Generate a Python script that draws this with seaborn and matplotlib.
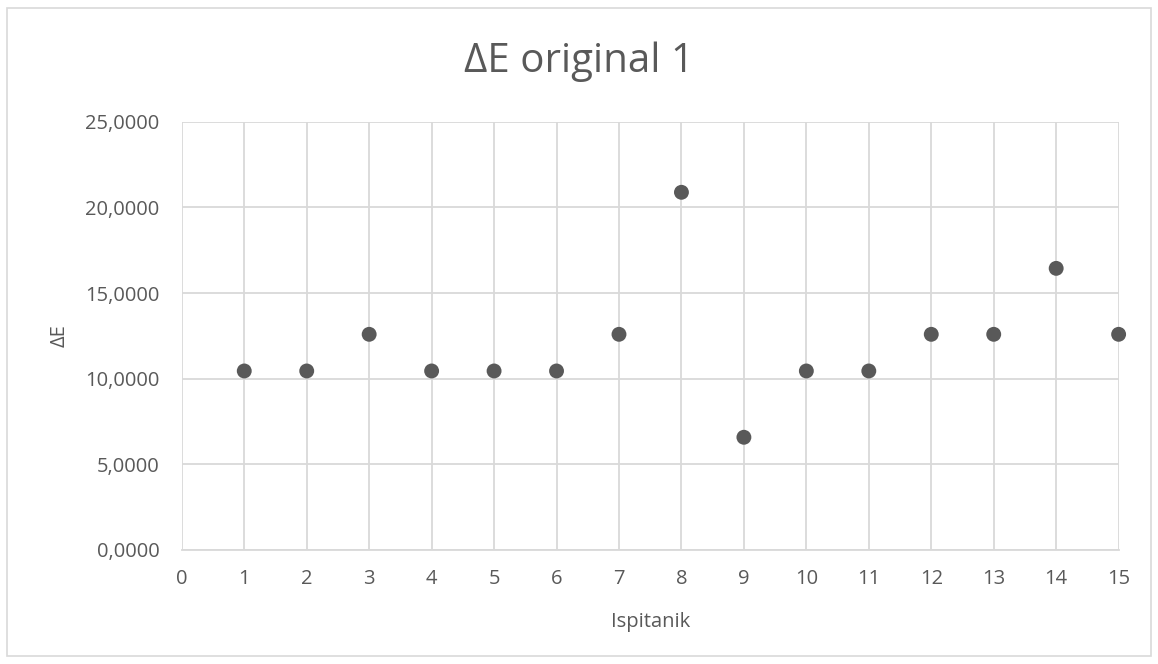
import matplotlib
matplotlib.use("Agg")
import matplotlib.pyplot as plt
import matplotlib.ticker as mticker
from matplotlib.patches import Rectangle
import seaborn as sns
import pandas as pd

ispitanik = [1, 2, 3, 4, 5, 6, 7, 8, 9, 10, 11, 12, 13, 14, 15]
delta_e = [10.45, 10.45, 12.59, 10.45, 10.45, 10.45, 12.59, 20.88, 6.58,
           10.45, 10.45, 12.59, 12.59, 16.44, 12.59]
x_ticks = list(range(0, 16))
y_ticks = [0, 5, 10, 15, 20, 25]
title = "ΔE original 1"
x_label = "Ispitanik"
y_label = "ΔE"

sns.set_theme(style="white")
plt.rcParams['font.family'] = ['Open Sans', 'DejaVu Sans']

text_color = "#595959"
grid_color = "#d9d9d9"

df = pd.DataFrame({"x": ispitanik, "y": delta_e})

fig = plt.figure(figsize=(11.58, 6.64), dpi=100)
ax = fig.add_axes([0.157, 0.1717, 0.966 - 0.157, 0.8167 - 0.1717])

sns.scatterplot(data=df, x="x", y="y", ax=ax, color="#595959", s=115,
                edgecolor="none", zorder=3, clip_on=False)

ax.set_xlim(0, 15)
ax.set_ylim(0, 25)
ax.set_xticks(x_ticks)
ax.set_yticks(y_ticks)
ax.yaxis.set_major_formatter(mticker.FuncFormatter(lambda v, p: f"{v:.4f}".replace(".", ",")))
ax.grid(True, color=grid_color, linewidth=1.3)
ax.set_axisbelow(True)
for s in ["top", "right", "left"]:
    ax.spines[s].set_visible(False)
ax.spines["bottom"].set_color(grid_color)
ax.spines["bottom"].set_linewidth(1.3)
ax.tick_params(axis="both", length=0, labelsize=14.5, colors=text_color)
ax.tick_params(axis="x", pad=14)
ax.tick_params(axis="y", pad=16)

ax.set_xlabel(x_label, fontsize=14.5, color=text_color, labelpad=16)
ax.set_ylabel(y_label, fontsize=14.5, color=text_color, labelpad=11)
fig.text(0.5, 0.907, title, ha="center", va="center", fontsize=29, color=text_color)

fig.patches.append(Rectangle((0.006, 0.012), 0.988, 0.976, transform=fig.transFigure,
                             fill=False, edgecolor=grid_color, linewidth=1.2))

fig.savefig("out.png", dpi=100)
